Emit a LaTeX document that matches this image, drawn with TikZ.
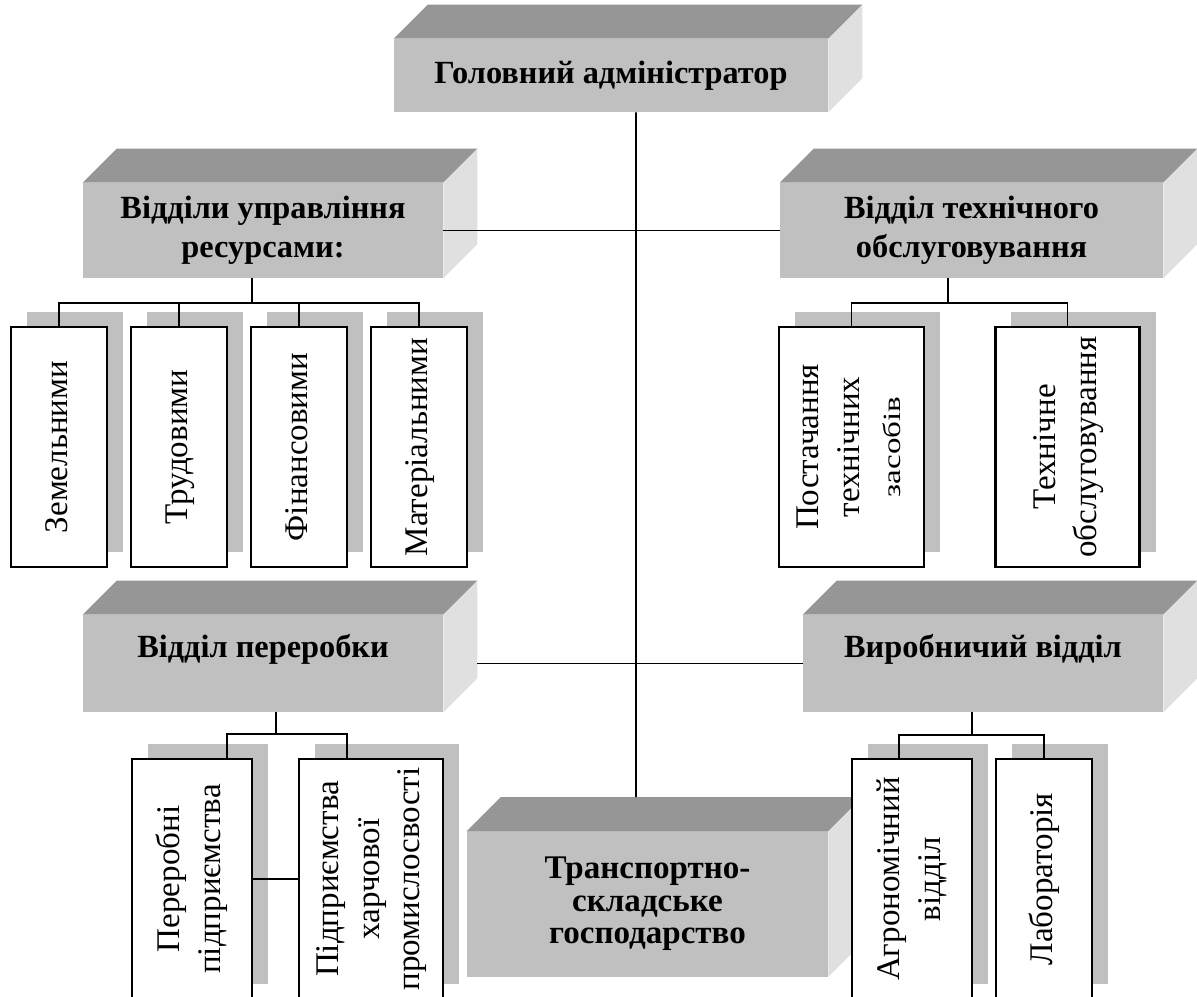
\documentclass[tikz,border=0pt]{standalone}
\usepackage{fontspec}
\setmainfont{Liberation Serif}
\usepackage{graphicx}
\usetikzlibrary{shadows}
\newcommand{\Depth}{0.85cm}
\definecolor{slabfront}{RGB}{192,192,192}
\definecolor{slabtop}{RGB}{150,150,150}
\definecolor{slabside}{RGB}{224,224,224}
\definecolor{shadowgray}{RGB}{192,192,192}
% rotated text of the small boxes
\newcommand{\vtext}[1]{\rotatebox{90}{\begin{tabular}{@{}c@{}}#1\end{tabular}}}
% top and right faces of a slab
\newcommand{\slabsides}[1]{%
  \fill[slabtop] (#1.north west) -- ++(\Depth,\Depth) -- ([shift={(\Depth,\Depth)}]#1.north east) -- (#1.north east) -- cycle;
  \fill[slabside] (#1.north east) -- ++(\Depth,\Depth) -- ([shift={(\Depth,\Depth)}]#1.south east) -- (#1.south east) -- cycle;}
\tikzset{
  slab/.style={fill=slabfront, align=center, inner sep=0pt,
    font=\fontsize{23}{27.5}\selectfont\bfseries},
  raised/.style={text height=0.57cm, text depth=0.89cm},
  unit/.style={draw, line width=1.5pt, fill=white, inner sep=0pt, minimum height=6cm,
    general shadow={draw=none, fill=shadowgray, shadow xshift=0.4cm, shadow yshift=0.375cm},
    font=\fontsize{23.5}{29}\selectfont},
  link/.style={line width=1.3pt}
}

\begin{document}
\begin{tikzpicture}[x=0.025cm, y=-0.025cm]
  \useasboundingbox (0,0) rectangle (1197,997);
  % slabs
  \node[slab, minimum width=10.85cm, minimum height=1.825cm] (chief) at (611,75.5) {Головний адміністратор};
  \node[slab, minimum width=9cm, minimum height=2.375cm] (res) at (263,230.5) {Відділи управління\\ресурсами:};
  \node[slab, minimum width=9.575cm, minimum height=2.375cm] (tech) at (971.5,230.5) {Відділ технічного\\обслуговування};
  \node[slab, raised, minimum width=9cm, minimum height=2.425cm] (proc) at (263,663.5) {Відділ переробки};
  \node[slab, raised, minimum width=9cm, minimum height=2.425cm] (prod) at (983,663.5) {Виробничий відділ};
  \node[slab, minimum width=9.025cm, minimum height=3.625cm,
    font=\fontsize{23.5}{23}\selectfont\bfseries] (trans) at (647.5,904) {Транспортно-\\складське\\господарство};
  \foreach \s in {chief,res,tech,proc,prod,trans}
    \slabsides{\s};
  % small boxes
  \node[unit, minimum width=2.4cm] (zem) at (59,447) {\vtext{Земельними}};
  \node[unit, minimum width=2.4cm] (trud) at (179,447) {\vtext{Трудовими}};
  \node[unit, minimum width=2.4cm] (fin) at (299,447) {\vtext{Фінансовими}};
  \node[unit, minimum width=2.4cm] (mat) at (419,447) {\vtext{Матеріальними}};
  \node[unit, minimum width=3.625cm] (supply) at (851.5,447) {\vtext{Постачання\\технічних\\\scalebox{1}[0.75]{засобів}}};
  \node[unit, minimum width=3.6cm] (service) at (1067.5,447) {\vtext{Технічне\\обслуговування}};
  \node[unit, minimum width=3cm] (per) at (192,879) {\vtext{Переробні\\підприємства}};
  \node[unit, minimum width=3.6cm] (food) at (371,879) {\vtext{Підприємства\\харчової\\промислосвості}};
  \node[unit, minimum width=3cm] (agro) at (912,879) {\vtext{Агрономічний\\відділ}};
  \node[unit, minimum width=2.4cm] (lab) at (1044,879) {\vtext{Лабораторія}};
  % spine and cross links
  \draw[link] ([xshift=0.625cm]chief.south) -- ([xshift=-0.2875cm,yshift=\Depth]trans.north);
  \draw[link] (res.east) -- (tech.west);
  \draw[link] ([xshift=\Depth]proc.east) -- (prod.west);
  % resources
  \draw[link] ([xshift=-0.275cm]res.south) -- ++(0,-0.625cm) coordinate (resbus);
  \foreach \u in {zem,trud,fin,mat}
    \draw[link] (\u.north) |- (resbus);
  % maintenance
  \draw[link] ([xshift=-0.5875cm]tech.south) -- ++(0,-0.625cm) coordinate (techbus);
  \foreach \u in {supply,service}
    \draw[link] (\u.north) |- (techbus);
  % processing
  \draw[link] ([xshift=0.325cm]proc.south) -- ++(0,-0.55cm) coordinate (procbus);
  \draw[link] ([xshift=0.875cm]per.north) |- (procbus);
  \draw[link] ([xshift=-0.6cm]food.north) |- (procbus);
  \draw[link] (per.east) -- (food.west);
  % production
  \draw[link] ([xshift=-0.275cm]prod.south) -- ++(0,-0.575cm) coordinate (prodbus);
  \draw[link] ([xshift=-0.325cm]agro.north) |- (prodbus);
  \draw[link] (lab.north) |- (prodbus);
\end{tikzpicture}
\end{document}
